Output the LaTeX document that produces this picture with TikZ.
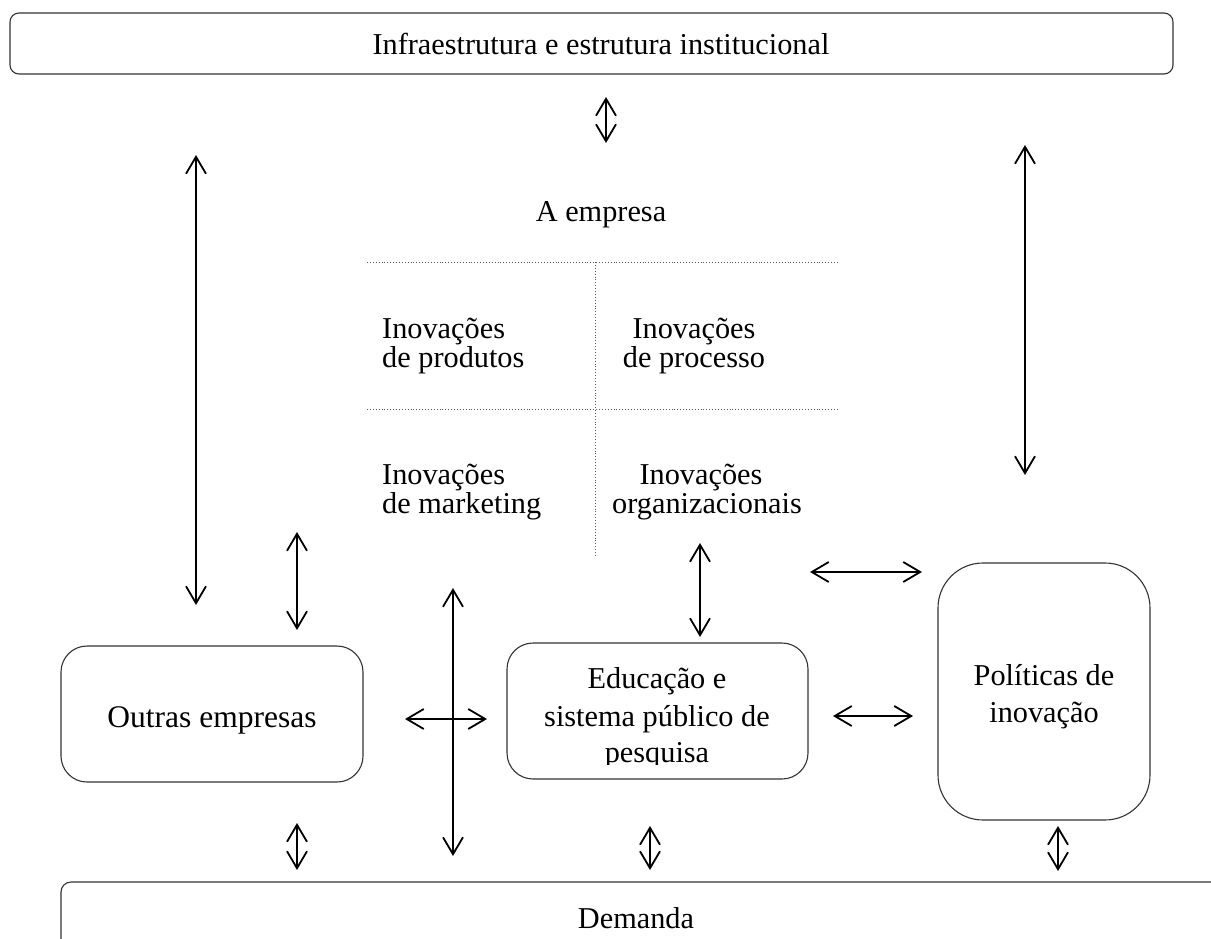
\documentclass[tikz,border=0pt]{standalone}
\usepackage{fontspec}
\setmainfont{Liberation Serif}
\usetikzlibrary{arrows.meta}
\begin{document}
\begin{tikzpicture}[x=1pt,y=-1pt,
  box/.style={draw=black!80,line width=1.1pt,rounded corners=#1},
  txt/.style={font=\fontsize{30.3}{29}\selectfont,inner sep=0pt,anchor=base},
  biarrow/.style={{Straight Barb[length=17pt,width=20pt]}-{Straight Barb[length=17pt,width=20pt]},line width=1.8pt},
  dots/.style={dotted,line width=0.9pt,black!65}]
\useasboundingbox (0,0) rectangle (1211,938);
\clip (0,0) rectangle (1211,938);

% boxes
\draw[box=9pt] (10,13) rectangle (1173,74);
\node[txt] (infra) at (601,54) {Infraestrutura e estrutura institucional};

\draw[box=26pt] (61,646) rectangle (363,782);
\node[txt,font=\fontsize{31.5}{29}\selectfont] (outras) at (212,727) {Outras empresas};

\draw[box=26pt] (507,643) rectangle (808,779);
\node[txt] (edu1) at (657,688) {Educação e};
\node[txt] (edu2) at (657,726) {sistema público de};
\begin{scope}
\clip (507,643) rectangle (808,764.5);
\node[txt] (edu3) at (657,762) {pesquisa};
\end{scope}

\draw[box=45pt] (938,563) rectangle (1150,820);
\node[txt] (pol1) at (1044,685) {Políticas de};
\node[txt] (pol2) at (1044,722) {inovação};

\draw[box=10pt] (61,882) rectangle (1260,1000);
\node[txt] (dem) at (636,928) {Demanda};

% firm
\node[txt] (emp) at (601,221) {A empresa};
\coordinate (h1a) at (367,262); \coordinate (h1b) at (838,262);
\coordinate (h2a) at (367,409); \coordinate (h2b) at (838,409);
\coordinate (va) at (595,262); \coordinate (vb) at (595,555);
\draw[dots] (h1a) -- (h1b);
\draw[dots] (h2a) -- (h2b);
\draw[dots] (va) -- (vb);

\node[txt,anchor=base west] (p1) at (382,338) {Inovações};
\node[txt,anchor=base west] (p2) at (382,367) {de produtos};
\node[txt] (q1) at (694,338) {Inovações};
\node[txt] (q2) at (694,367) {de processo};
\node[txt,anchor=base west] (m1) at (382,484) {Inovações};
\node[txt,anchor=base west] (m2) at (382,513) {de marketing};
\node[txt] (o1) at (701,484) {Inovações};
\node[txt] (o2) at (707,513) {organizacionais};

% arrows
\coordinate (a1) at (606,97);   \coordinate (b1) at (606,143);
\coordinate (a2) at (196,155);  \coordinate (b2) at (196,605);
\coordinate (a3) at (1025,145); \coordinate (b3) at (1025,475);
\coordinate (a4) at (297,532);  \coordinate (b4) at (297,630);
\coordinate (a5) at (700,543);  \coordinate (b5) at (700,637);
\coordinate (a6) at (810,572);  \coordinate (b6) at (922,572);
\coordinate (a7) at (453,588);  \coordinate (b7) at (453,856);
\coordinate (a8) at (405,719);  \coordinate (b8) at (487,719);
\coordinate (a9) at (833,716);  \coordinate (b9) at (913,716);
\coordinate (a10) at (297,823); \coordinate (b10) at (297,870);
\coordinate (a11) at (650,826); \coordinate (b11) at (650,870);
\coordinate (a12) at (1058,826);\coordinate (b12) at (1058,871);
\foreach \i in {1,...,12} {\draw[biarrow] (a\i) -- (b\i);}
\end{tikzpicture}
\end{document}
